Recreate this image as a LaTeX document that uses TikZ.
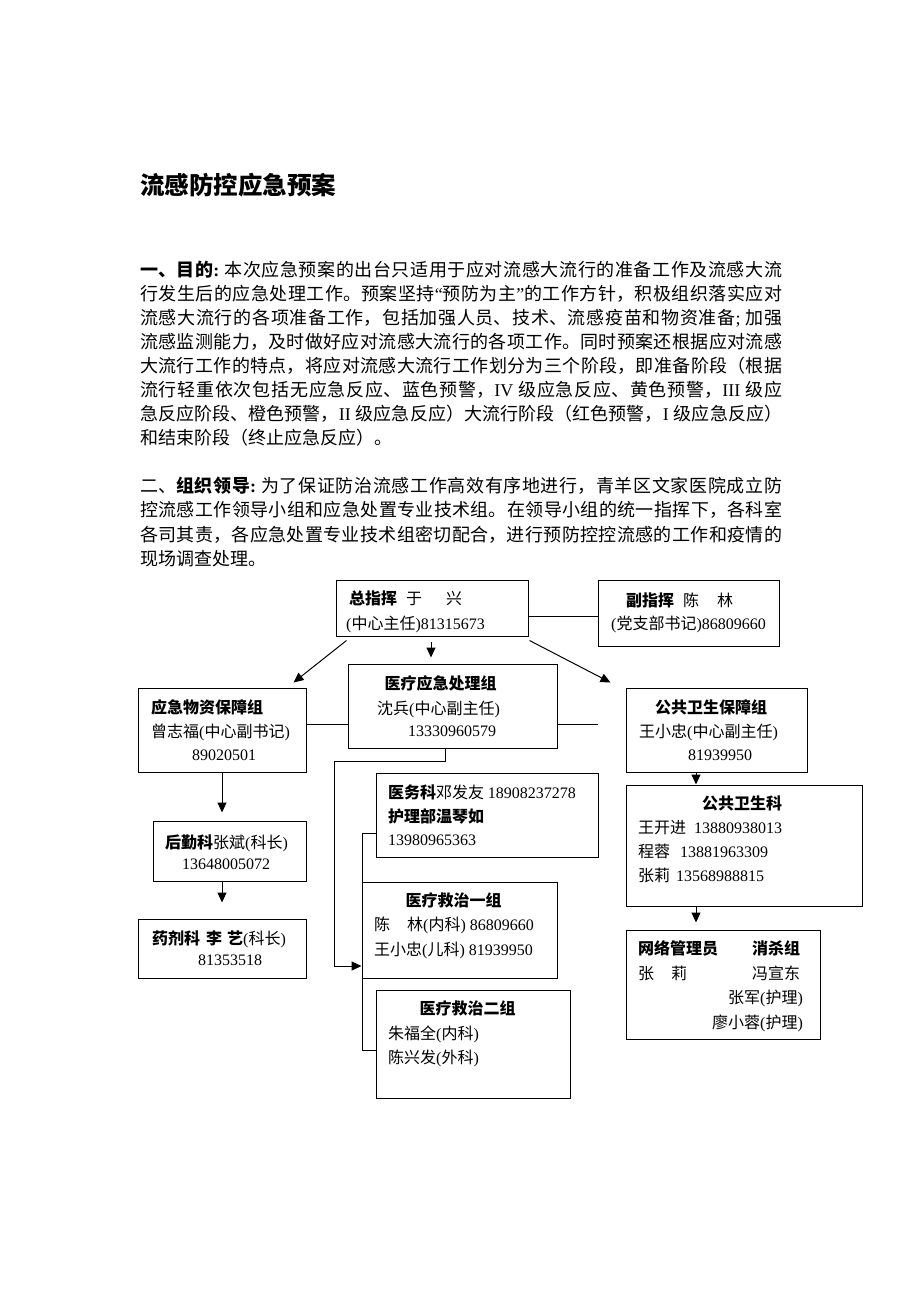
\documentclass[tikz,border=0pt]{standalone}
\usepackage{fontspec}
\setmainfont{Noto Sans CJK SC}
\newfontfamily\lat{Liberation Serif}
\newcommand\tn[1]{{\lat #1}}
\usetikzlibrary{arrows.meta,calc}
\XeTeXlinebreaklocale "zh"
\XeTeXlinebreakskip=0pt plus 2pt
\newcommand\jl[1]{\parbox[b]{642pt}{\parfillskip=0pt\relax #1}}
\newcommand\gp{\hspace*{5pt}}
\begin{document}
\begin{tikzpicture}[x=1pt,y=-1pt,
  box/.style={draw, line width=1pt, inner sep=0pt, rectangle},
  bt/.style={anchor=base west, inner sep=0pt, font=\fontsize{16}{16}\selectfont},
  btc/.style={anchor=base, inner sep=0pt, font=\fontsize{16}{16}\selectfont},
  body/.style={anchor=base west, inner sep=0pt, font=\fontsize{18}{18}\selectfont},
  conn/.style={line width=1pt},
  arr/.style={line width=1pt, -{Triangle[length=10pt,width=9pt]}}]
\useasboundingbox[fill=white] (0,0) rectangle (920,1302);

% title
\node[anchor=base west, inner sep=0pt, font=\fontsize{24.5}{24.5}\selectfont\bfseries] (title) at (140,194) {流感防控应急预案};

% paragraph 1
\node[body] (p1a) at (140,276) {\jl{{\bfseries 一、目的\tn{:}}\gp 本次应急预案的出台只适用于应对流感大流行的准备工作及流感大流}};
\node[body] (p1b) at (140,300) {\jl{行发生后的应急处理工作。预案坚持\tn{“}预防为主\tn{”}的工作方针，积极组织落实应对}};
\node[body] (p1c) at (140,324) {\jl{流感大流行的各项准备工作，包括加强人员、技术、流感疫苗和物资准备\tn{;}\gp 加强}};
\node[body] (p1d) at (140,348) {\jl{流感监测能力，及时做好应对流感大流行的各项工作。同时预案还根据应对流感}};
\node[body] (p1e) at (140,372) {\jl{大流行工作的特点，将应对流感大流行工作划分为三个阶段，即准备阶段（根据}};
\node[body] (p1f) at (140,396) {\jl{流行轻重依次包括无应急反应、蓝色预警，\tn{IV}\gp 级应急反应、黄色预警，\tn{III}\gp 级应}};
\node[body] (p1g) at (140,420) {\jl{急反应阶段、橙色预警，\tn{II}\gp 级应急反应）大流行阶段（红色预警，\tn{I}\gp 级应急反应）}};
\node[body] (p1h) at (140,444) {和结束阶段（终止应急反应）。};

% paragraph 2
\node[body] (p2a) at (140,492) {\jl{二、{\bfseries 组织领导\tn{:}}\gp 为了保证防治流感工作高效有序地进行，青羊区文家医院成立防}};
\node[body] (p2b) at (140,516) {\jl{控流感工作领导小组和应急处置专业技术组。在领导小组的统一指挥下，各科室}};
\node[body] (p2c) at (140,541) {\jl{各司其责，各应急处置专业技术组密切配合，进行预防控控流感的工作和疫情的}};
\node[body] (p2d) at (140,565) {现场调查处理。};

% boxes
\node[box, minimum width=192pt, minimum height=56pt] (zzh) at (432,608) {};
\node[box, minimum width=181pt, minimum height=66pt] (fzh) at (688.5,613) {};
\node[box, minimum width=209pt, minimum height=84pt] (yljj) at (452.5,706) {};
\node[box, minimum width=168pt, minimum height=84pt] (yjwz) at (222,730) {};
\node[box, minimum width=181pt, minimum height=84pt] (ggws) at (716.5,730) {};
\node[box, minimum width=153pt, minimum height=60pt] (hqk) at (229.5,851) {};
\node[box, minimum width=168pt, minimum height=59pt] (yjk) at (222,948.5) {};
\node[box, minimum width=222pt, minimum height=84pt] (ywk) at (487,815) {};
\node[box, minimum width=195pt, minimum height=96pt] (zl1) at (459.5,930) {};
\node[box, minimum width=194pt, minimum height=108pt] (zl2) at (473,1044) {};
\node[box, minimum width=236pt, minimum height=121pt] (ggwsk) at (744,845.5) {};
\node[box, minimum width=194pt, minimum height=109pt] (wl) at (723,984.5) {};

% box texts
\node[bt] (zzh1) at (349,604) {{\bfseries 总指挥}\hspace*{9pt}于\hspace*{24pt}兴};
\node[bt] (zzh2) at (346,629) {\tn{(}中心主任\tn{)81315673}};
\node[bt] (fzh1) at (626,606) {{\bfseries 副指挥}\hspace*{9pt}陈\hspace*{18pt}林};
\node[bt] (fzh2) at (611,629) {\tn{(}党支部书记\tn{)86809660}};

\node[btc] (yljj1) at (440.5,689) {\bfseries 医疗应急处理组};
\node[bt] (yljj2) at (377,714) {沈兵\tn{(}中心副主任\tn{)}};
\node[bt] (yljj3) at (408,736) {\tn{13330960579}};

\node[bt] (yjwz1) at (151,713) {\bfseries 应急物资保障组};
\node[bt] (yjwz2) at (151,737) {曾志福\tn{(}中心副书记\tn{)}};
\node[bt] (yjwz3) at (192,760) {\tn{89020501}};

\node[bt] (ggws1) at (655,713) {\bfseries 公共卫生保障组};
\node[bt] (ggws2) at (639,737) {王小忠\tn{(}中心副主任\tn{)}};
\node[bt] (ggws3) at (688,760) {\tn{81939950}};

\node[bt] (hqk1) at (165,848) {{\bfseries 后勤科}张斌\tn{(}科长\tn{)}};
\node[bt] (hqk2) at (182,869) {\tn{13648005072}};

\node[bt] (yjk1) at (152,944) {{\bfseries 药剂科\hspace*{6pt}李\hspace*{5pt}艺}\tn{(}科长\tn{)}};
\node[bt] (yjk2) at (198,965) {\tn{81353518}};

\node[bt] (ywk1) at (388,798) {{\bfseries 医务科}邓发友 \tn{18908237278}};
\node[bt] (ywk2) at (388,822) {\bfseries 护理部温琴如};
\node[bt] (ywk3) at (388,845) {\tn{13980965363}};

\node[btc] (zl11) at (453.5,906) {\bfseries 医疗救治一组};
\node[bt] (zl12) at (374,930) {陈\hspace*{17pt}林\tn{(}内科\tn{) 86809660}};
\node[bt] (zl13) at (374,955) {王小忠\tn{(}儿科\tn{) 81939950}};

\node[btc] (zl21) at (467.5,1014) {\bfseries 医疗救治二组};
\node[bt] (zl22) at (388,1039) {朱福全\tn{(}内科\tn{)}};
\node[bt] (zl23) at (388,1063) {陈兴发\tn{(}外科\tn{)}};

\node[btc] (gk1) at (742,809) {\bfseries 公共卫生科};
\node[bt] (gk2) at (638,833) {王开进\hspace*{8pt}\tn{13880938013}};
\node[bt] (gk3) at (638,857) {程蓉\hspace*{10pt}\tn{13881963309}};
\node[bt] (gk4) at (638,881) {张莉\hspace*{6pt}\tn{13568988815}};

\node[bt] (wl1) at (638,954) {\bfseries 网络管理员};
\node[bt] (wl2) at (752,954) {\bfseries 消杀组};
\node[bt] (wl3) at (638,979) {张\hspace*{17pt}莉};
\node[bt] (wl4) at (752,979) {冯宣东};
\node[bt] (wl5) at (728,1003) {张军\tn{(}护理\tn{)}};
\node[bt] (wl6) at (712,1028) {廖小蓉\tn{(}护理\tn{)}};

% connectors
\coordinate (ya) at (0,616);
\draw[conn] (zzh.east |- ya) -- (fzh.west |- ya);
\draw[arr] ($(zzh.south west)+(11,4)$) -- ($(yjwz.north east)+(-13,-5)$);
\draw[arr] ($(zzh.south)+(-1,5)$) -- ($(yljj.north)+(-21.5,-6)$);
\draw[arr] ($(zzh.south east)+(1,4)$) -- ($(ggws.north west)+(-15,-5)$);
\coordinate (yb) at (0,724);
\draw[conn] (yjwz.east |- yb) -- (yljj.west |- yb);
\coordinate (gapend) at (598,724);
\draw[conn] (yljj.east |- yb) -- (gapend);
\coordinate (c1) at (334,761);
\coordinate (c2) at (0,966);
\draw[arr] ($(yljj.south)+(-7.5,0)$) |- (c1) |- (zl1.west |- c2);
\coordinate (c3) at (362,833);
\coordinate (c4) at (362,1050);
\draw[conn] (ywk.west |- c3) -- (c3) -- (c4) -- (zl2.west |- c4);
\draw[arr] (yjwz.south) -- ($(hqk.north)+(-7.5,-8)$);
\draw[arr] ($(hqk.south)+(-7.5,0)$) -- ($(yjk.north)+(0,-16)$);
\draw[arr] ($(ggws.south)+(-20.5,0)$) -- ($(ggwsk.north)+(-48,0)$);
\draw[arr] ($(ggwsk.south)+(-48,0)$) -- ($(wl.north)+(-27,-7)$);
\end{tikzpicture}
\end{document}
